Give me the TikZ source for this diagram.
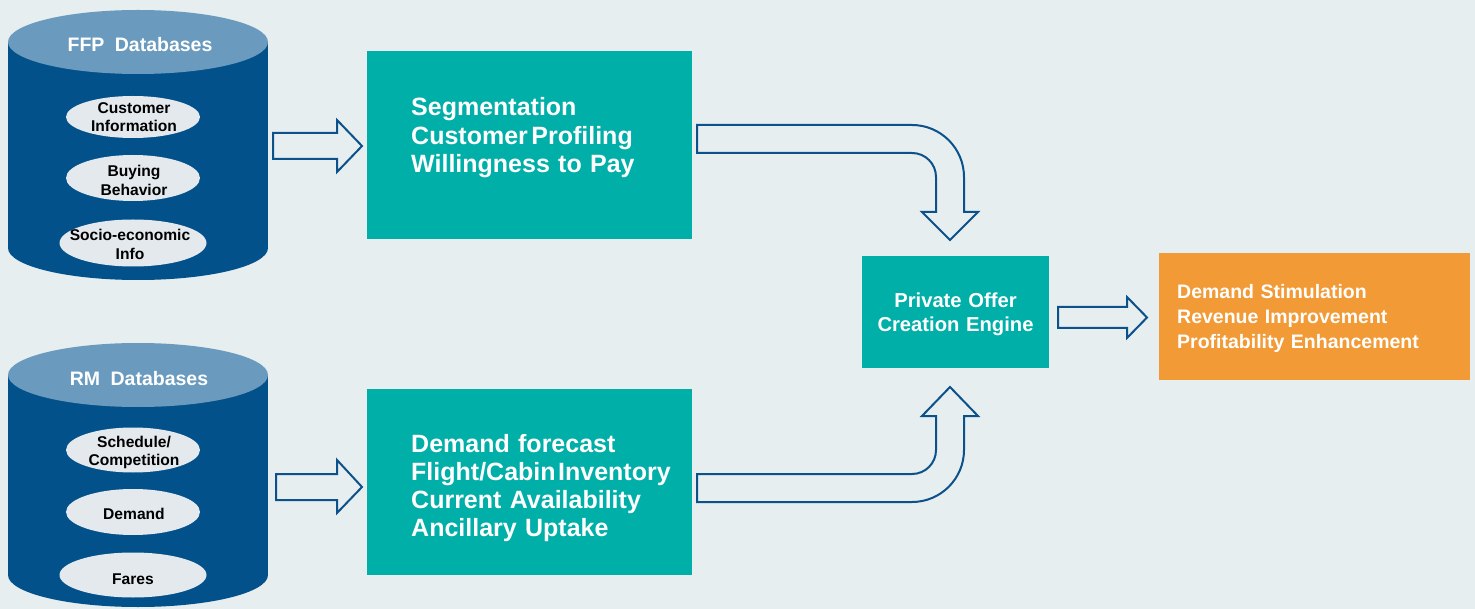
\documentclass[tikz,border=0pt]{standalone}
\usepackage{fontspec}
\setmainfont{Liberation Sans}
\usetikzlibrary{shapes.geometric}
\definecolor{bgc}{RGB}{230,238,240}
\definecolor{dbbody}{RGB}{2,81,138}
\definecolor{dbtop}{RGB}{106,155,190}
\definecolor{itemfill}{RGB}{228,233,238}
\definecolor{tealc}{RGB}{0,175,168}
\definecolor{orangec}{RGB}{242,154,54}
\definecolor{arrowc}{RGB}{12,81,138}
\tikzset{
  dbside/.style={fill=dbbody, draw=none},
  dbcap/.style={fill=dbtop, draw=none},
  dbitem/.style={ellipse, fill=itemfill, draw=none, inner sep=0pt},
  dbitemtext/.style={anchor=base, inner sep=0pt, align=center, text width=150pt,
    font=\bfseries\fontsize{15.6}{18.4}\selectfont, text=black},
  dbtitle/.style={anchor=base, inner sep=0pt, text=white,
    font=\bfseries\fontsize{19.5}{23}\selectfont},
  tealbox/.style={rectangle, fill=tealc, draw=none, inner sep=0pt, anchor=north west},
  orangebox/.style={rectangle, fill=orangec, draw=none, inner sep=0pt, anchor=north west},
  bigtext/.style={anchor=base west, inner sep=0pt, align=left, text width=300pt,
    text=white, font=\bfseries\fontsize{25}{28.3}\selectfont},
  midtext/.style={anchor=base, inner sep=0pt, align=center, text width=200pt,
    text=white, font=\bfseries\fontsize{20.2}{24}\selectfont},
  outtext/.style={anchor=base west, inner sep=0pt, align=left, text width=290pt,
    text=white, font=\bfseries\fontsize{19.5}{25}\selectfont},
  blockarrow/.style={draw=arrowc, fill=bgc, line width=2pt, line join=miter},
}
\begin{document}
\begin{tikzpicture}[x=1pt, y=-1pt]
\useasboundingbox (0,0) rectangle (1475,609);
\fill[bgc] (0,0) rectangle (1475,609);

% ---- FFP cylinder ----
\fill[dbside] (8,42) rectangle (268,248);
\fill[dbside] (138,248) ellipse [x radius=130pt, y radius=32pt];
\fill[dbcap] (138,42) ellipse [x radius=130pt, y radius=32pt];
\node[dbtitle] (ffpt) at (140,52) {FFP\hspace{5pt} Databases};
\node[dbitem, minimum width=134pt, minimum height=42pt] (ci) at (133,117) {};
\node[dbitem, minimum width=134pt, minimum height=46pt] (bb) at (133,178) {};
\node[dbitem, minimum width=147pt, minimum height=47pt] (se) at (133,243) {};
\node[dbitemtext] (cit) at (134,113.3) {Customer\\Information};
\node[dbitemtext] (bbt) at (134,176.7) {Buying\\Behavior};
\node[dbitemtext] (set) at (130,241) {Socio-economic\\Info};

% ---- RM cylinder ----
\fill[dbside] (8,375) rectangle (268,575);
\fill[dbside] (138,575) ellipse [x radius=130pt, y radius=32pt];
\fill[dbcap] (138,375) ellipse [x radius=130pt, y radius=32pt];
\node[dbtitle] (rmt) at (139,385) {RM\hspace{5pt} Databases};
\node[dbitem, minimum width=134pt, minimum height=45pt] (sc) at (133,450) {};
\node[dbitem, minimum width=134pt, minimum height=46pt] (dm) at (133,512) {};
\node[dbitem, minimum width=147pt, minimum height=45pt] (fa) at (133,575) {};
\node[dbitemtext] (sct) at (134,447.3) {Schedule/\\Competition};
\node[dbitemtext] (dmt) at (134,519.3) {Demand};
\node[dbitemtext] (fat) at (133,584.3) {Fares};

% ---- teal boxes ----
\node[tealbox, minimum width=325pt, minimum height=188pt] (seg) at (367,51) {};
\node[bigtext] (segt) at (411,116) {Segmentation\\Customer\hspace{3.5pt}Profiling\\Willingness to Pay};
\node[tealbox, minimum width=325pt, minimum height=186pt] (dem) at (367,389) {};
\node[bigtext] (demt) at (411,452) {Demand forecast\\Flight/Cabin\hspace{2.5pt}Inventory\\Current Availability\\Ancillary Uptake};
\node[tealbox, minimum width=187pt, minimum height=112pt] (poc) at (862,256) {};
\node[midtext] (poct) at (955.5,308) {Private Offer\\Creation Engine};
\node[orangebox, minimum width=311pt, minimum height=127pt] (out) at (1159,253) {};
\node[outtext] (outt) at (1177,299) {Demand Stimulation\\Revenue Improvement\\Profitability Enhancement};

% ---- straight block arrows ----
\draw[blockarrow] (273,133) -- (337,133) -- (337,120) -- (362,146) -- (337,172) -- (337,159) -- (273,159) -- cycle;
\draw[blockarrow] (276,474) -- (337,474) -- (337,460) -- (362,487) -- (337,513) -- (337,500) -- (276,500) -- cycle;
\draw[blockarrow] (1058,307) -- (1127,307) -- (1127,297) -- (1147,317.5) -- (1127,338) -- (1127,328) -- (1058,328) -- cycle;

% ---- bent block arrows ----
\draw[blockarrow] (697,125) -- (912,125) .. controls (940.7,125) and (964,148.3) .. (964,177)
  -- (964,212) -- (978,212) -- (950,240) -- (922,212) -- (936,212) -- (936,177)
  .. controls (936,163.7) and (925.3,153) .. (912,153) -- (697,153) -- cycle;
\draw[blockarrow] (697,474) -- (912,474) .. controls (925.3,474) and (936,463.3) .. (936,450)
  -- (936,416) -- (922,416) -- (950,387) -- (978,416) -- (964,416) -- (964,450)
  .. controls (964,478.7) and (940.7,502) .. (912,502) -- (697,502) -- cycle;
\end{tikzpicture}
\end{document}
